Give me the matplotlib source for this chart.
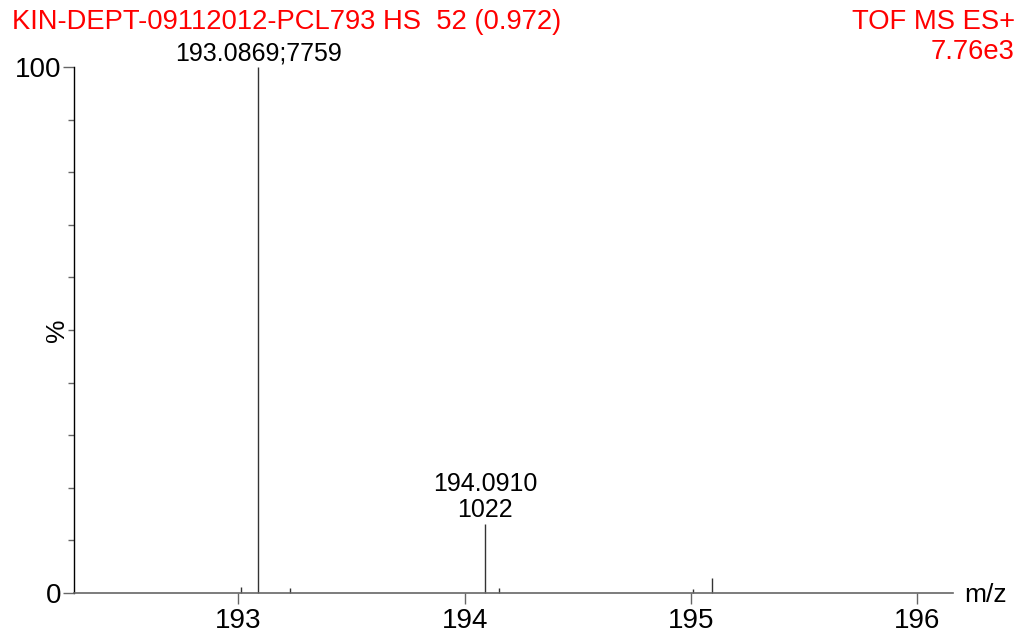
import numpy as np
import matplotlib.pyplot as plt

plt.rcParams['font.family'] = ['Liberation Sans', 'DejaVu Sans']

# centroided peaks: m/z and relative intensity (%)
mz = [193.013, 193.0869, 193.230, 194.0910, 194.150, 195.009, 195.093]
rel = [1.1, 100.0, 0.9, 13.17, 1.0, 0.75, 2.9]
# labelled peaks: m/z, label text
peak_labels = [(193.0869, "193.0869;7759"), (194.0910, "194.0910\n1022")]

title = "KIN-DEPT-09112012-PCL793 HS  52 (0.972)"
mode = "TOF MS ES+"
base_peak = "7.76e3"

W, H = 1023, 636
fig = plt.figure(figsize=(W / 100, H / 100), dpi=100)
ax = fig.add_axes([74 / W, 43 / H, 879 / W, 526 / H])

ax.vlines(mz, 0, rel, color='#333333', lw=1.0, clip_on=False)
ax.set_xlim(192.273, 196.159)
ax.set_ylim(0, 100)

for x, txt in peak_labels:
    y = rel[mz.index(x)]
    ax.annotate(txt, (x, y), xytext=(0, 1), textcoords='offset points',
                ha='center', va='bottom', fontsize=18, linespacing=1.1)

for s in ('top', 'right'):
    ax.spines[s].set_visible(False)
ax.spines['left'].set_color('black')
ax.spines['bottom'].set_color('#666666')
ax.spines['left'].set_linewidth(1.0)
ax.spines['bottom'].set_linewidth(1.2)

ax.set_xticks([193, 194, 195, 196])
ax.set_yticks([0, 100])
ax.set_yticklabels(['0', '100'])
ax.set_yticks(np.arange(10, 100, 10), minor=True)
ax.tick_params(axis='x', direction='out', length=8, width=1, color='#666666',
               labelsize=20, pad=3)
ax.tick_params(axis='y', which='major', direction='out', length=8, width=1,
               color='#666666', labelsize=20, pad=1)
ax.tick_params(axis='y', which='minor', direction='out', length=4, width=1,
               color='#666666')

fig.text(964 / W, 1 - 595 / H, "m/z", fontsize=19, va='center', ha='left')
fig.text(57 / W, 1 - 330 / H, "%", fontsize=19, rotation=90, va='center', ha='center')

fig.text(12 / W, 1 - 22 / H, title, color='red', fontsize=19.7, va='center', ha='left')
fig.text(1015 / W, 1 - 22 / H, mode, color='red', fontsize=19.7, va='center', ha='right')
fig.text(1015 / W, 1 - 52 / H, base_peak, color='red', fontsize=19.7, va='center', ha='right')

fig.savefig('out.png', dpi=100)
